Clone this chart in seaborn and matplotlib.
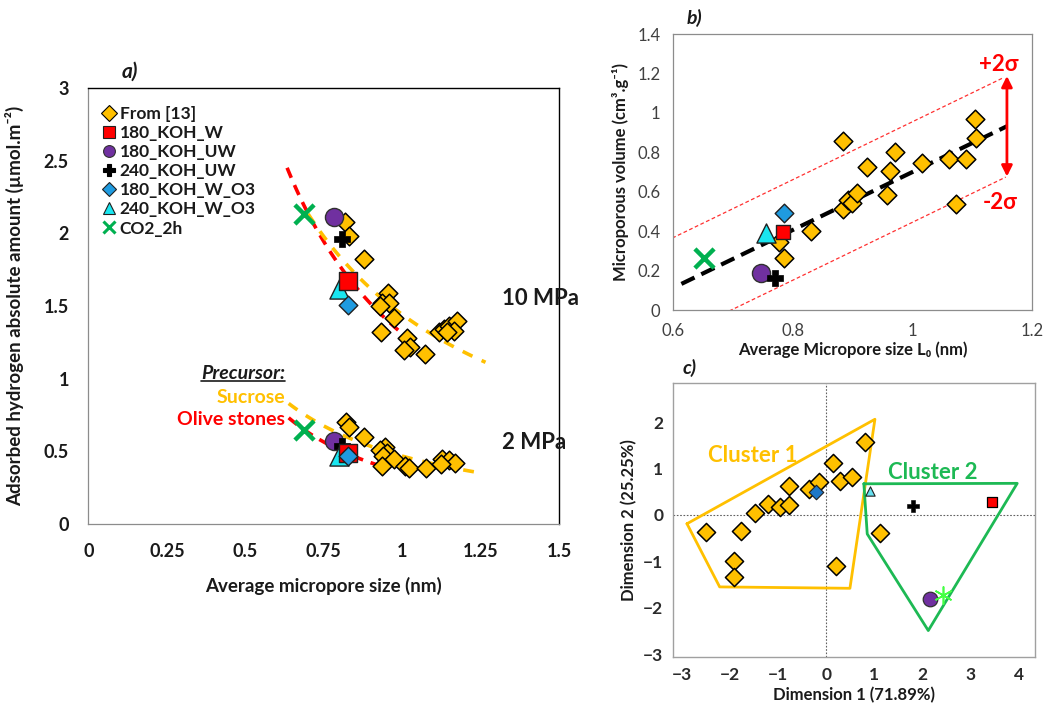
import numpy as np
import pandas as pd
import matplotlib
matplotlib.use("Agg")
import matplotlib.pyplot as plt
from matplotlib.lines import Line2D
import seaborn as sns

sns.set_theme(style="white")
plt.rcParams['font.family'] = ['Lato', 'DejaVu Sans']

# ---------------- panel a: H2 uptake vs micropore size ----------------
ref_size_10 = [0.819, 0.831, 0.877, 0.953, 0.936, 0.959, 0.930, 0.975, 0.933, 1.015,
               1.026, 1.004, 1.071, 1.116, 1.132, 1.148, 1.173, 1.164, 1.143]
ref_h2_10 = [2.08, 1.98, 1.82, 1.59, 1.52, 1.52, 1.50, 1.42, 1.32, 1.28,
             1.22, 1.20, 1.17, 1.32, 1.34, 1.36, 1.40, 1.33, 1.32]
ref_size_2 = [0.822, 0.829, 0.877, 0.946, 0.930, 0.952, 0.939, 0.973, 0.936, 1.010,
              1.020, 1.074, 1.127, 1.148, 1.169, 1.122]
ref_h2_2 = [0.70, 0.67, 0.60, 0.53, 0.51, 0.49, 0.47, 0.45, 0.40, 0.40,
            0.385, 0.385, 0.45, 0.44, 0.42, 0.41]

samples = ["180_KOH_W", "180_KOH_UW", "240_KOH_UW", "180_KOH_W_O3", "240_KOH_W_O3", "CO2_2h"]
sample_size_a = [0.826, 0.782, 0.808, 0.826, 0.797, 0.686]
sample_h2_10 = [1.67, 2.11, 1.96, 1.51, 1.62, 2.13]
sample_h2_2 = [0.49, 0.57, 0.54, 0.47, 0.465, 0.65]

# power-law trend lines  y = a * x**b  (a, b, x_start, x_end)
trend_olive_10 = (1.310, -1.37, 0.633, 0.99)
trend_sucrose_10 = (1.441, -1.10, 0.70, 1.265)
trend_olive_2 = (0.356, -1.60, 0.638, 0.93)
trend_sucrose_2 = (0.467, -1.278, 0.638, 1.254)

# ---------------- panel b: micropore volume vs L0 ----------------
ref_L0 = [0.777, 0.785, 0.830, 0.884, 0.884, 0.893, 0.899, 0.907, 0.924, 0.957,
          0.963, 0.971, 1.016, 1.062, 1.090, 1.073, 1.105, 1.107]
ref_W0 = [0.345, 0.266, 0.401, 0.858, 0.511, 0.559, 0.542, 0.592, 0.728, 0.584,
          0.703, 0.804, 0.745, 0.765, 0.765, 0.538, 0.968, 0.875]
sample_L0 = [0.783, 0.747, 0.770, 0.785, 0.755, 0.651]
sample_W0 = [0.398, 0.186, 0.161, 0.494, 0.389, 0.266]
fit_slope, fit_intercept, two_sigma = 1.47, -0.77, 0.255
fit_range = (0.614, 1.158)

# ---------------- panel c: PCA scores ----------------
ref_dim1 = [-2.51, -1.93, -1.93, -1.77, -1.48, -1.22, -0.97, -0.78, -0.78, -0.36,
            -0.15, 0.14, 0.28, 0.54, 0.81, 0.19, 1.11]
ref_dim2 = [-0.37, -0.99, -1.34, -0.34, 0.04, 0.23, 0.18, 0.21, 0.62, 0.55,
            0.70, 1.11, 0.73, 0.82, 1.56, -1.10, -0.38]
sample_dim1 = [3.45, 2.15, 1.81, -0.21, 0.90, 2.43]
sample_dim2 = [0.27, -1.81, 0.20, 0.49, 0.52, -1.72]
cluster1_x = [-2.90, 1.01, 0.49, -2.22, -2.90]
cluster1_y = [-0.19, 2.06, -1.58, -1.55, -0.19]
cluster2_x = [0.78, 3.97, 2.12, 0.85, 0.78]
cluster2_y = [0.67, 0.68, -2.49, -0.41, 0.67]

# ---------------- styles ----------------
ORANGE = "#FFC000"
style = {
    "From [13]": dict(marker="D", color=ORANGE, edgecolor="black", s=90, linewidth=1.1),
    "180_KOH_W": dict(marker="s", color="#FF0000", edgecolor="#202020", s=150, linewidth=1.0),
    "180_KOH_UW": dict(marker="o", color="#7030A0", edgecolor="#303030", s=170, linewidth=1.0),
    "240_KOH_UW": dict(marker="P", color="black", edgecolor="black", s=120, linewidth=0.5),
    "180_KOH_W_O3": dict(marker="D", color="#1F9BE0", edgecolor="#202020", s=90, linewidth=1.0),
    "240_KOH_W_O3": dict(marker="^", color="#19E6F0", edgecolor="#202020", s=190, linewidth=1.0),
    "CO2_2h": dict(marker="x", color="#00B050", s=190, linewidth=3.2),
}
order = ["From [13]"] + samples
BOLD = dict(fontweight="bold")
TXT = "#1a1a1a"

fig = plt.figure(figsize=(10.48, 7.08), dpi=100)
ax_a = fig.add_axes([0.0843, 0.2599, 0.4494, 0.6158])
ax_b = fig.add_axes([0.6422, 0.5621, 0.3426, 0.3898])
ax_c = fig.add_axes([0.6422, 0.0720, 0.3454, 0.3870])


def scatter(ax, x, y, name, scale=1.0, label=None, zorder=3):
    kw = dict(style[name])
    kw["s"] = kw["s"] * scale
    sns.scatterplot(x=x, y=y, ax=ax, legend=False, zorder=zorder, label=label, **kw)
    return ax.collections[-1]


# ======== panel a ========
for a, b, x0, x1 in [trend_olive_10, trend_olive_2]:
    xs = np.linspace(x0, x1, 60)
    ax_a.plot(xs, a * xs ** b, color="#FF0000", lw=2.6, dashes=(3, 2.2), zorder=2)
for a, b, x0, x1 in [trend_sucrose_10, trend_sucrose_2]:
    xs = np.linspace(x0, x1, 60)
    ax_a.plot(xs, a * xs ** b, color=ORANGE, lw=2.6, dashes=(3, 2.8), zorder=2)

scatter(ax_a, ref_size_10, ref_h2_10, "From [13]")
scatter(ax_a, ref_size_2, ref_h2_2, "From [13]")
draw_order = ["CO2_2h", "180_KOH_UW", "240_KOH_UW", "240_KOH_W_O3", "180_KOH_W", "180_KOH_W_O3"]
for name in draw_order:
    i = samples.index(name)
    scatter(ax_a, [sample_size_a[i]], [sample_h2_10[i]], name, zorder=4)
    scatter(ax_a, [sample_size_a[i]], [sample_h2_2[i]], name, zorder=4)

leg_handles = []
for name in order:
    st = style[name]
    filled = st["marker"] not in ("x", "+")
    leg_handles.append(Line2D([], [], linestyle="none", marker=st["marker"],
                              markerfacecolor=st["color"],
                              markeredgecolor=st.get("edgecolor", st["color"]) if filled else st["color"],
                              markeredgewidth=0.8 if filled else 2.2,
                              markersize=8.5 if name != "180_KOH_W_O3" else 7))
leg = ax_a.legend(leg_handles, order, loc="upper left", bbox_to_anchor=(-0.005, 0.995),
                  frameon=False, handlelength=0.8, handletextpad=0.25, labelspacing=0.18,
                  prop=dict(size=12.5, weight="bold"))
for t in leg.get_texts():
    t.set_color(TXT)

ax_a.set_xlim(0, 1.5)
ax_a.set_ylim(0, 3)
ax_a.set_xticks([0, 0.25, 0.5, 0.75, 1, 1.25, 1.5])
ax_a.set_xticklabels(["0", "0.25", "0.5", "0.75", "1", "1.25", "1.5"])
ax_a.set_yticks([0, 0.5, 1, 1.5, 2, 2.5, 3])
ax_a.set_yticklabels(["0", "0.5", "1", "1.5", "2", "2.5", "3"])
ax_a.tick_params(axis="both", direction="out", length=5, width=0.8, color="#8c8c8c",
                 labelsize=13, labelcolor=TXT, pad=9)
for lab in ax_a.get_xticklabels() + ax_a.get_yticklabels():
    lab.set_fontweight("bold")
for side in ("left", "bottom"):
    ax_a.spines[side].set_color("#8c8c8c")
    ax_a.spines[side].set_linewidth(0.9)
for side in ("top", "right"):
    ax_a.spines[side].set_color("black")
    ax_a.spines[side].set_linewidth(1.0)
ax_a.set_xlabel("Average micropore size (nm)", fontsize=13.5, color=TXT, labelpad=12, **BOLD)
ax_a.set_ylabel("Adsorbed hydrogen absolute amount (µmol.m⁻²)", fontsize=13.5, color=TXT,
                labelpad=14, **BOLD)
ax_a.text(0.089, 1.037, "a)", transform=ax_a.transAxes, fontsize=15, fontstyle="italic",
          ha="center", va="center", color=TXT, **BOLD)
ax_a.text(1.44, 1.55, "10 MPa", fontsize=16, ha="center", va="center", color=TXT, **BOLD)
ax_a.text(1.42, 0.56, "2 MPa", fontsize=16, ha="center", va="center", color=TXT, **BOLD)
prec = ax_a.text(0.627, 1.035, "Precursor:", fontsize=14, fontstyle="italic", ha="right",
                 va="center", color=TXT, **BOLD)
ax_a.text(0.627, 0.87, "Sucrose", fontsize=14, ha="right", va="center", color=ORANGE, **BOLD)
ax_a.text(0.627, 0.72, "Olive stones", fontsize=14, ha="right", va="center", color="#FF0000", **BOLD)

# ======== panel b ========
xs = np.array(fit_range)
ax_b.plot(xs, fit_slope * xs + fit_intercept, color="black", lw=3, dashes=(3.5, 1.8), zorder=2)
xu = np.array([0.58, 1.153])
ax_b.plot(xu, fit_slope * xu + fit_intercept + two_sigma, color="#FF3030", lw=0.9,
          dashes=(3, 2), zorder=1)
xl = np.array([0.60, 1.156])
ax_b.plot(xl, fit_slope * xl + fit_intercept - two_sigma, color="#FF3030", lw=0.9,
          dashes=(3, 2), zorder=1)

scatter(ax_b, ref_L0, ref_W0, "From [13]")
for name in draw_order:
    i = samples.index(name)
    sc = 0.75 if name in ("180_KOH_W",) else 1.0
    scatter(ax_b, [sample_L0[i]], [sample_W0[i]], name, scale=sc, zorder=4)

x_arrow = 1.158
ax_b.annotate("", xy=(x_arrow, fit_slope * x_arrow + fit_intercept + two_sigma),
              xytext=(x_arrow, fit_slope * x_arrow + fit_intercept - two_sigma),
              arrowprops=dict(arrowstyle="<|-|>", color="#FF0000", lw=2, mutation_scale=16,
                              shrinkA=0, shrinkB=0))
ax_b.text(1.144, 1.244, "+2σ", color="#FF0000", fontsize=16, ha="center", va="center", **BOLD)
ax_b.text(1.147, 0.543, "-2σ", color="#FF0000", fontsize=16, ha="center", va="center", **BOLD)

ax_b.set_xlim(0.6, 1.2)
ax_b.set_ylim(0, 1.4)
ax_b.set_xticks([0.6, 0.8, 1.0, 1.2])
ax_b.set_xticklabels(["0.6", "0.8", "1", "1.2"])
ax_b.set_yticks([0, 0.2, 0.4, 0.6, 0.8, 1.0, 1.2, 1.4])
ax_b.set_yticklabels(["0", "0.2", "0.4", "0.6", "0.8", "1", "1.2", "1.4"])
ax_b.tick_params(axis="both", direction="out", length=5, width=0.8, color="#8c8c8c",
                 labelsize=12, labelcolor="#404040", pad=4)
for sp in ax_b.spines.values():
    sp.set_color("#8c8c8c")
    sp.set_linewidth(0.9)
ax_b.set_xlabel("Average Micropore size L₀ (nm)", fontsize=12, color=TXT, labelpad=2, **BOLD)
ax_b.set_ylabel("Microporous volume (cm³.g⁻¹)", fontsize=12, color=TXT, labelpad=6, **BOLD)
ax_b.text(0.06, 1.058, "b)", transform=ax_b.transAxes, fontsize=14, fontstyle="italic",
          ha="center", va="center", color=TXT, **BOLD)

# ======== panel c ========
ax_c.axvline(0, color="#606060", lw=0.8, ls=(0, (1.5, 1.5)), zorder=1)
ax_c.axhline(0, color="#606060", lw=0.8, ls=(0, (1.5, 1.5)), zorder=1)
ax_c.plot(cluster1_x, cluster1_y, color=ORANGE, lw=2, zorder=2)
ax_c.plot(cluster2_x, cluster2_y, color="#1DB954", lw=2, zorder=2)
ax_c.text(-1.53, 1.29, "Cluster 1", color=ORANGE, fontsize=16, ha="center", va="center", **BOLD)
ax_c.text(2.22, 0.91, "Cluster 2", color="#1DB954", fontsize=16, ha="center", va="center", **BOLD)

scatter(ax_c, ref_dim1, ref_dim2, "From [13]", scale=0.95)
c_style = {
    "180_KOH_W": dict(marker="s", color="#FF0000", edgecolor="black", s=55, linewidth=0.9),
    "180_KOH_UW": dict(marker="o", color="#7030A0", edgecolor="#303030", s=110, linewidth=0.9),
    "240_KOH_UW": dict(marker="P", color="black", edgecolor="black", s=70, linewidth=0.4),
    "180_KOH_W_O3": dict(marker="D", color="#1F78C8", edgecolor="#202020", s=55, linewidth=0.8),
    "240_KOH_W_O3": dict(marker="^", color="#66E0F0", edgecolor="#202020", s=45, linewidth=0.8),
    "CO2_2h": dict(marker=(6, 2, 0), color="#44FF44", s=150, linewidth=1.2),
}
for name in samples:
    i = samples.index(name)
    sns.scatterplot(x=[sample_dim1[i]], y=[sample_dim2[i]], ax=ax_c, legend=False, zorder=4,
                    **c_style[name])

ax_c.set_xlim(-3.19, 4.34)
ax_c.set_ylim(-3.06, 2.84)
ax_c.set_xticks(range(-3, 5))
ax_c.set_yticks(range(-3, 3))
ax_c.tick_params(axis="both", direction="out", length=4, width=0.8, color="#8c8c8c",
                 labelsize=12.5, labelcolor="#2a2a2a", pad=3)
for lab in ax_c.get_xticklabels() + ax_c.get_yticklabels():
    lab.set_fontweight("bold")
for sp in ax_c.spines.values():
    sp.set_color("#a0a0a0")
    sp.set_linewidth(1.0)
ax_c.set_xlabel("Dimension 1 (71.89%)", fontsize=12, color=TXT, labelpad=3, **BOLD)
ax_c.set_ylabel("Dimension 2 (25.25%)", fontsize=12, color=TXT, labelpad=4, **BOLD)
ax_c.text(0.047, 1.055, "c)", transform=ax_c.transAxes, fontsize=14, fontstyle="italic",
          ha="center", va="center", color=TXT, **BOLD)

# underline for the "Precursor:" heading
fig.canvas.draw()
bb = prec.get_window_extent()
fx0, fx1 = bb.x0 / fig.bbox.width, bb.x1 / fig.bbox.width
fy = (bb.y0 + 1) / fig.bbox.height
fig.add_artist(Line2D([fx0, fx1], [fy, fy], color=TXT, lw=1.2))

fig.savefig("out.png", dpi=100, facecolor="white")
